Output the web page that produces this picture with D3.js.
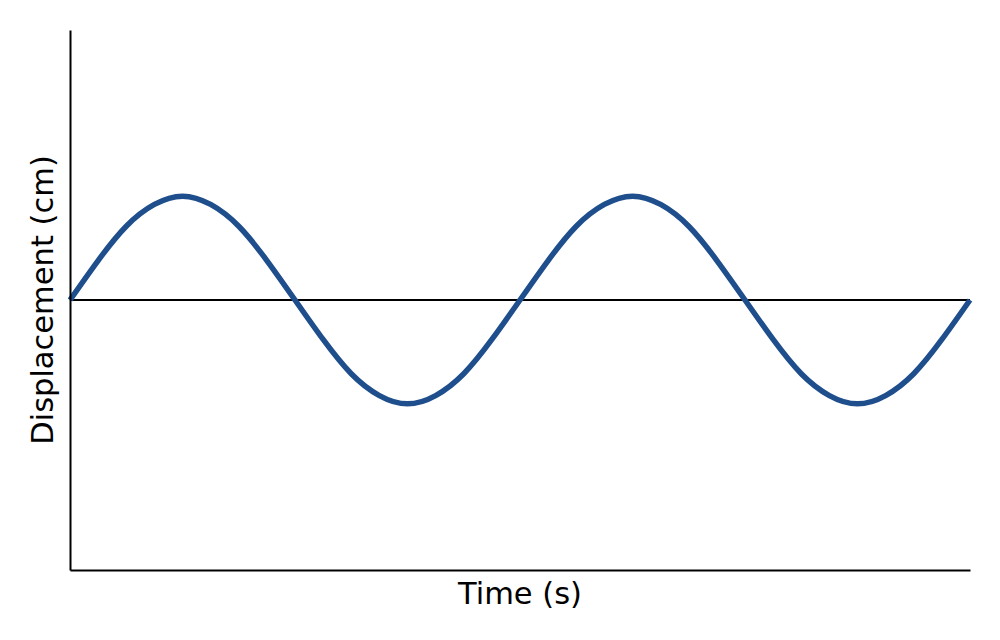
<!DOCTYPE html>
<html>
<head>
<meta charset="utf-8">
<script src="https://cdn.jsdelivr.net/npm/d3@7"></script>
<style>
  body { margin: 0; background: #fff; }
  text { font-family: "DejaVu Sans", sans-serif; }
</style>
</head>
<body>
<svg id="chart" width="1000" height="640"></svg>
<script>
// time in periods, sampled every 1/16 period
const times = [0, 0.0625, 0.125, 0.1875, 0.25, 0.3125, 0.375, 0.4375, 0.5,
  0.5625, 0.625, 0.6875, 0.75, 0.8125, 0.875, 0.9375, 1,
  1.0625, 1.125, 1.1875, 1.25, 1.3125, 1.375, 1.4375, 1.5,
  1.5625, 1.625, 1.6875, 1.75, 1.8125, 1.875, 1.9375, 2];
// displacement
const displacement = [0, 0.38, 0.71, 0.92, 1, 0.92, 0.71, 0.38, 0,
  -0.38, -0.71, -0.92, -1, -0.92, -0.71, -0.38, 0,
  0.38, 0.71, 0.92, 1, 0.92, 0.71, 0.38, 0,
  -0.38, -0.71, -0.92, -1, -0.92, -0.71, -0.38, 0];

const margin = {top: 30, right: 30, bottom: 70, left: 70};
const width = 1000 - margin.left - margin.right;
const height = 640 - margin.top - margin.bottom;

const svg = d3.select("#chart")
  .append("g")
  .attr("transform", "translate(" + margin.left + "," + margin.top + ")");

const x = d3.scaleLinear().domain([0, 2]).range([0, width]);
const y = d3.scaleLinear().domain([-2.6, 2.6]).range([height, 0]);

const data = times.map((t, i) => ({t: t, d: displacement[i]}));

// zero line
svg.append("line")
  .attr("x1", x(0)).attr("x2", x(2))
  .attr("y1", y(0)).attr("y2", y(0))
  .attr("stroke", "#000")
  .attr("stroke-width", 2);

const line = d3.line()
  .x(d => x(d.t))
  .y(d => y(d.d))
  .curve(d3.curveNatural);

svg.append("path")
  .datum(data)
  .attr("fill", "none")
  .attr("stroke", "#1f4e8c")
  .attr("stroke-width", 5.5)
  .attr("d", line);

// axes (no ticks)
svg.append("g")
  .attr("transform", "translate(0," + height + ")")
  .call(d3.axisBottom(x).tickValues([]).tickSizeOuter(0))
  .select(".domain").attr("stroke-width", 2);

svg.append("g")
  .call(d3.axisLeft(y).tickValues([]).tickSizeOuter(0))
  .select(".domain").attr("stroke-width", 2);

svg.append("text")
  .attr("x", width / 2)
  .attr("y", height + 34)
  .attr("text-anchor", "middle")
  .style("font-size", "30.5px")
  .text("Time (s)");

svg.append("text")
  .attr("transform", "rotate(-90)")
  .attr("x", -height / 2)
  .attr("y", -margin.left + 53)
  .attr("text-anchor", "middle")
  .style("font-size", "30.5px")
  .text("Displacement (cm)");
</script>
</body>
</html>
